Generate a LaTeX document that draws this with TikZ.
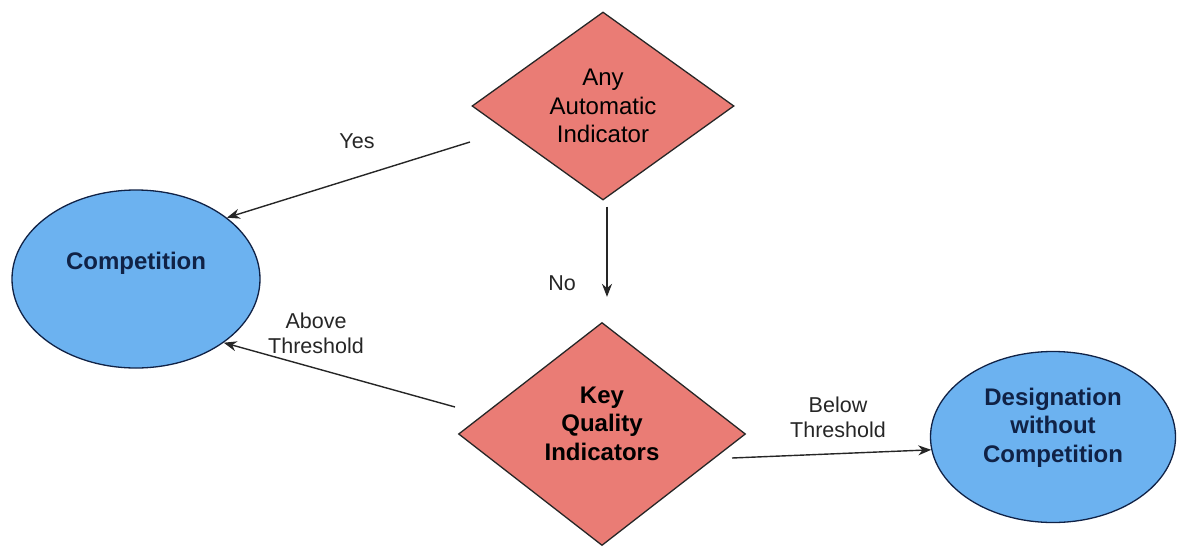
\documentclass[tikz,border=0pt]{standalone}
\usepackage{fontspec}
\setmainfont{Liberation Sans}
\usetikzlibrary{shapes.geometric,arrows.meta}
\definecolor{salmon}{RGB}{234,124,117}
\definecolor{skyb}{RGB}{108,178,240}
\definecolor{navy}{RGB}{16,34,70}
\tikzset{
  decision/.style={diamond,draw=black!85,line width=1.3pt,fill=salmon,inner sep=0pt,align=center,
    font=\fontsize{24}{28.5}\selectfont},
  outcome/.style={ellipse,draw=navy,line width=1.3pt,fill=skyb,inner sep=0pt,align=center,
    text=navy,font=\fontsize{24}{28.5}\selectfont\bfseries},
  conn/.style={draw=black!85,line width=1.4pt,-{Stealth[length=13pt,width=10pt]}},
  lbl/.style={align=center,text=black!85,font=\fontsize{21.5}{25}\selectfont}
}
\begin{document}
\begin{tikzpicture}[x=1pt,y=-1pt]
\useasboundingbox (0,0) rectangle (1177,546);
\node[decision,minimum width=262pt,minimum height=188pt,shape aspect=1.39] (auto) at (603,106) {Any\\Automatic\\Indicator};
\node[decision,minimum width=287pt,minimum height=223pt,shape aspect=1.29,font=\fontsize{24}{28.5}\selectfont\bfseries,text depth=21pt] (key) at (602,434) {Key\\Quality\\Indicators};
\node[outcome,minimum width=248pt,minimum height=178pt,text depth=37pt] (comp) at (136,279) {Competition};
\node[outcome,minimum width=245pt,minimum height=171pt,text depth=24pt] (des) at (1053,437) {Designation\\without\\Competition};
\coordinate (yesS) at (470,142);
\coordinate (aboveS) at (455,407);
\coordinate (belowS) at (732,458);
\draw[conn] (yesS) -- (comp.34);
\draw[conn,shorten <=6pt,shorten >=25pt] ([xshift=4pt]auto.south) -- ([xshift=5pt]key.north);
\draw[conn] (aboveS) -- (comp.-36);
\draw[conn] (belowS) -- (des.186);
\node[lbl] (yes) at (357,141) {Yes};
\node[lbl] (no) at (562,283) {No};
\node[lbl] (above) at (316,333) {Above\\Threshold};
\node[lbl] (below) at (838,417) {Below\\Threshold};
\end{tikzpicture}
\end{document}
